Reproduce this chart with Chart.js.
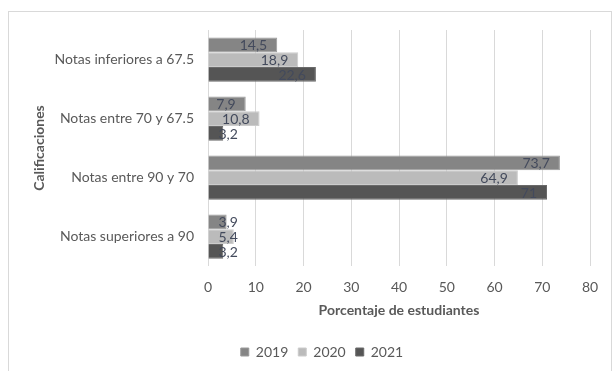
<!DOCTYPE html>
<html>
<head>
<meta charset="utf-8">
<script src="https://cdn.jsdelivr.net/npm/chart.js@4"></script>
<style>
  html, body { margin: 0; padding: 0; background: #fff; }
  #wrap { position: relative; width: 616px; height: 371px; overflow: hidden; }
  #frame { position: absolute; left: 8px; top: 11px; width: 602px; height: 400px; border: 1px solid #d9d9d9; }
  canvas { position: absolute; left: 0; top: 0; }
</style>
</head>
<body>
<div id="wrap">
  <div id="frame"></div>
  <canvas id="chart" width="616" height="371"></canvas>
</div>
<script>
let categories = ["Notas inferiores a 67.5", "Notas entre 70 y 67.5", "Notas entre 90 y 70", "Notas superiores a 90"];
let years = ["2019", "2020", "2021"];
let values2019 = [14.5, 7.9, 73.7, 3.9];
let values2020 = [18.9, 10.8, 64.9, 5.4];
let values2021 = [22.6, 3.2, 71, 3.2];
let xTicks = [0, 10, 20, 30, 40, 50, 60, 70, 80];

let fontName = "Lato, 'Open Sans', sans-serif";
let textGray = "#595959";

// etiquetas de valor al final de cada barra
let barLabels = {
  id: "barLabels",
  afterDatasetsDraw(chart) {
    let ctx = chart.ctx;
    ctx.save();
    ctx.font = "14px " + fontName;
    ctx.fillStyle = "#434a5c";
    ctx.textAlign = "right";
    ctx.textBaseline = "middle";
    chart.data.datasets.forEach(function(ds, i) {
      let meta = chart.getDatasetMeta(i);
      meta.data.forEach(function(bar, j) {
        let txt = String(ds.data[j]).replace(".", ",");
        let w = ctx.measureText(txt).width;
        let x = bar.x - 10;
        if (x - w < bar.base) x = bar.base + w + 10;
        ctx.fillText(txt, x, bar.y + 1);
      });
    });
    ctx.restore();
  }
};

// la leyenda de Excel queda algo a la derecha del centro
let legendShift = {
  id: "legendShift",
  afterLayout(chart) {
    chart.legend.left += 23;
    chart.legend.right += 23;
  }
};

let ctx = document.getElementById("chart");
let chart = new Chart(ctx, {
  type: "bar",
  data: {
    labels: categories,
    datasets: [
      { label: years[0], data: values2019, backgroundColor: "#858585", borderColor: "#9a9a9a", borderWidth: 1 },
      { label: years[1], data: values2020, backgroundColor: "#bbbbbb", borderColor: "#cccccc", borderWidth: 1 },
      { label: years[2], data: values2021, backgroundColor: "#555555", borderColor: "#6a6a6a", borderWidth: 1 }
    ]
  },
  options: {
    indexAxis: "y",
    responsive: false,
    animation: false,
    layout: { padding: { left: 8, top: 30, right: 26, bottom: 2 } },
    datasets: { bar: { categoryPercentage: 0.75, barPercentage: 1 } },
    scales: {
      x: {
        min: 0,
        max: 80,
        afterBuildTicks(scale) { scale.ticks = xTicks.map(v => ({ value: v })); },
        afterFit(scale) { scale.height = 69; },
        grid: { color: "#d9d9d9", drawTicks: false },
        border: { display: false },
        ticks: { color: textGray, font: { family: fontName, size: 14 }, padding: 13 },
        title: { display: true, text: "Porcentaje de estudiantes", color: textGray,
                 font: { family: fontName, size: 14, weight: "bold" }, padding: { top: 0, bottom: 16 } }
      },
      y: {
        afterFit(scale) { scale.width = 200; },
        grid: { display: false },
        border: { display: false },
        ticks: { color: textGray, font: { family: fontName, size: 14 }, padding: 6 },
        title: { display: true, text: "Calificaciones", color: textGray,
                 font: { family: fontName, size: 14, weight: "bold" }, padding: { top: 23, bottom: 0 } }
      }
    },
    plugins: {
      legend: {
        position: "bottom",
        labels: { boxWidth: 8, boxHeight: 8, padding: 10, color: textGray, font: { family: fontName, size: 14 } }
      },
      tooltip: { enabled: false }
    }
  },
  plugins: [barLabels, legendShift]
});
</script>
</body>
</html>
